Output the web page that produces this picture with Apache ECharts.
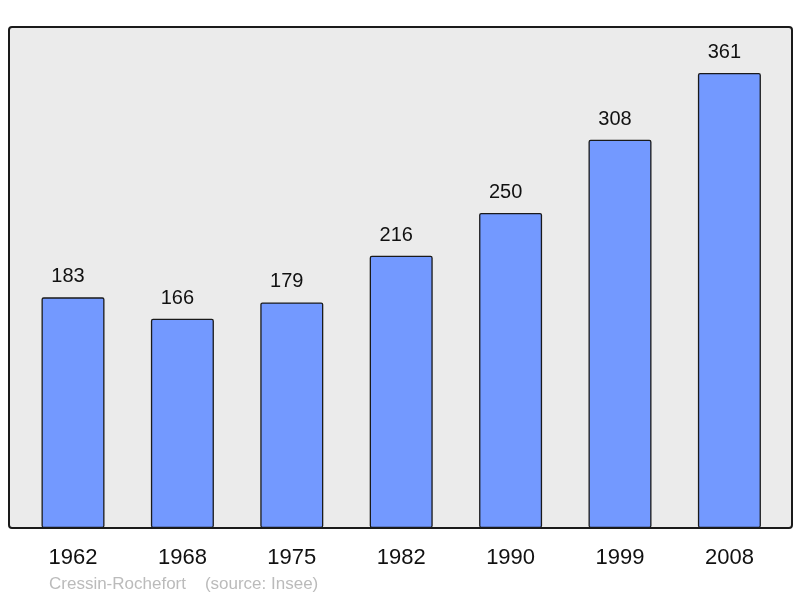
<!DOCTYPE html>
<html>
<head>
<meta charset="utf-8">
<script src="https://cdn.jsdelivr.net/npm/echarts@6/dist/echarts.min.js"></script>
<style>html,body{margin:0;padding:0;background:#fff;}#c{width:800px;height:598px;}</style>
</head>
<body>
<div id="c"></div>
<script>
const years = ['1962', '1968', '1975', '1982', '1990', '1999', '2008'];
const population = [183, 166, 179, 216, 250, 308, 361];
const footerText = 'Cressin-Rochefort    (source: Insee)';

const chart = echarts.init(document.getElementById('c'), null, {renderer: 'canvas'});
chart.setOption({
  animation: false,
  backgroundColor: '#ffffff',
  textStyle: {fontFamily: 'Liberation Sans, Arial, sans-serif'},
  graphic: [
    {type: 'rect', z: -10, silent: true,
     shape: {x: 9, y: 27, width: 783, height: 501, r: 3},
     style: {fill: '#ebebeb', stroke: '#1a1a1a', lineWidth: 2}},
    {type: 'text', left: 49, top: 576, silent: true,
     style: {text: footerText, fill: '#bbbbbb', font: '17px "Liberation Sans", Arial, sans-serif'}}
  ],
  grid: {left: 18.3, right: 15.9, top: 27, bottom: 70, containLabel: false},
  xAxis: {
    type: 'category', data: years, boundaryGap: true,
    axisLine: {show: false}, axisTick: {show: false}, splitLine: {show: false},
    axisLabel: {color: '#111', fontSize: 22, margin: 19, fontFamily: 'Liberation Sans, Arial, sans-serif'}
  },
  yAxis: {
    type: 'value', min: 0, max: 397.5,
    show: false, splitLine: {show: false}
  },
  series: [{
    type: 'bar', data: population, barWidth: 63,
    itemStyle: {color: '#7399ff', borderColor: '#1a1a1a', borderWidth: 1.3, borderRadius: 1.5},
    label: {show: true, position: 'top', distance: 10.5, offset: [-5, 0], color: '#111', fontSize: 20,
            fontFamily: 'Liberation Sans, Arial, sans-serif'}
  }]
});
</script>
</body>
</html>
